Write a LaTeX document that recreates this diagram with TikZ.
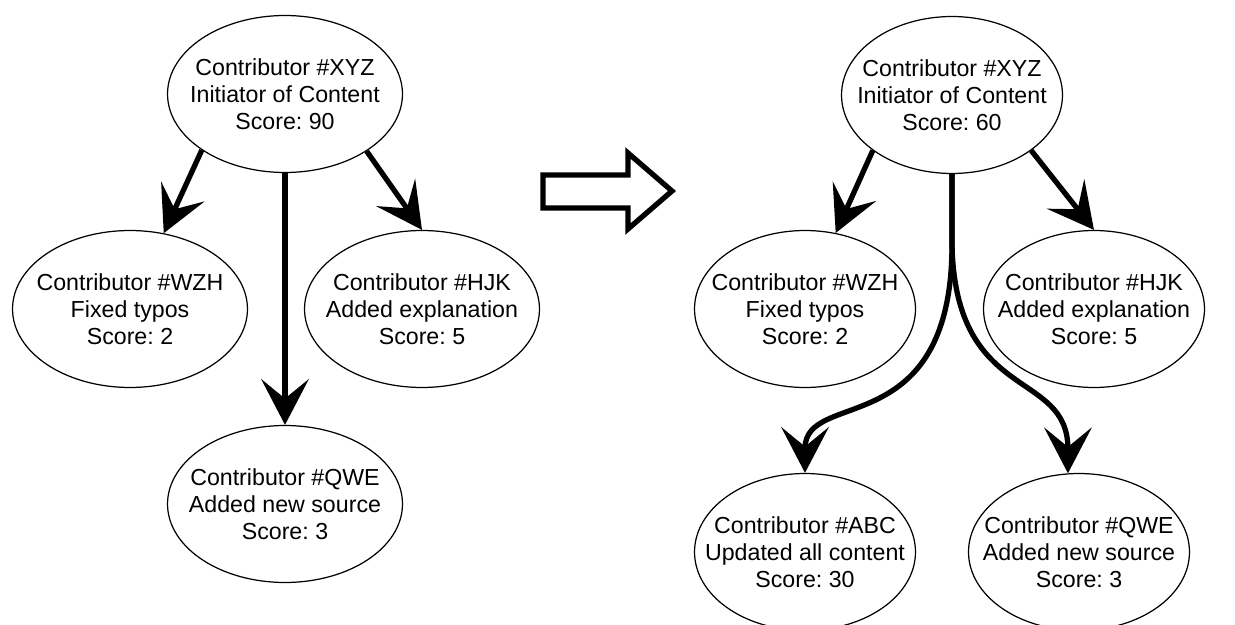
\documentclass[tikz,border=0pt]{standalone}
\usepackage{fontspec}
\setmainfont{Liberation Sans}
\usetikzlibrary{positioning}
\usetikzlibrary{shapes.geometric}
\usetikzlibrary{arrows.meta}
\tikzset{
	every node/.style = {font=\fontsize{13.2}{15.3}\selectfont}
}
\frenchspacing

\begin{document}
\begin{tikzpicture}[x=0.02cm, y=-0.02cm,
	contrib/.style={draw, ellipse, line width=0.7pt, align=center, inner xsep=-20pt, inner ysep=0pt, minimum width=4.7cm, minimum height=3.14cm},
	slim/.style={contrib, minimum width=4.42cm},
	link/.style={line width=3pt, -{Stealth[length=26pt, width=27pt, inset=11pt]}}]
	\useasboundingbox (0,0) rectangle (1235,625);
	% before
	\node[contrib] (xyzL) at (285,94) {Contributor \#XYZ\\Initiator of Content\\Score: 90};
	\node[contrib] (wzhL) at (130,309) {Contributor \#WZH\\Fixed typos\\Score: 2};
	\node[contrib] (hjkL) at (422,309) {Contributor \#HJK\\Added explanation\\Score: 5};
	\node[contrib] (qweL) at (285,504) {Contributor \#QWE\\Added new source\\Score: 3};
	\draw[link] (xyzL.214) -- (wzhL.66);
	\draw[link] (xyzL.325) -- (hjkL.north);
	\draw[link] (xyzL.south) -- (qweL.north);
	% big arrow
	\draw[line width=3pt, line join=miter] (543,175) -- (628,175) -- (628,153) -- (672,191) -- (628,229) -- (628,208) -- (543,208) -- cycle;
	% after
	\node[slim] (xyzR) at (952,95) {Contributor \#XYZ\\Initiator of Content\\Score: 60};
	\node[slim] (wzhR) at (805,309) {Contributor \#WZH\\Fixed typos\\Score: 2};
	\node[slim] (hjkR) at (1094,309) {Contributor \#HJK\\Added explanation\\Score: 5};
	\node[slim] (abcR) at (805,552) {Contributor \#ABC\\Updated all content\\Score: 30};
	\node[slim] (qweR) at (1079,552) {Contributor \#QWE\\Added new source\\Score: 3};
	\draw[link] (xyzR.215) -- (wzhR.68);
	\draw[link] (xyzR.325) -- (hjkR.north);
	\draw[link] (xyzR.south) -- ++(0,70) .. controls +(0,200) and +(0,-85) .. (abcR.north);
	\draw[link] (xyzR.south) -- ++(0,70) .. controls +(3,160) and +(0,-105) .. (qweR.98);
\end{tikzpicture}
\end{document}
